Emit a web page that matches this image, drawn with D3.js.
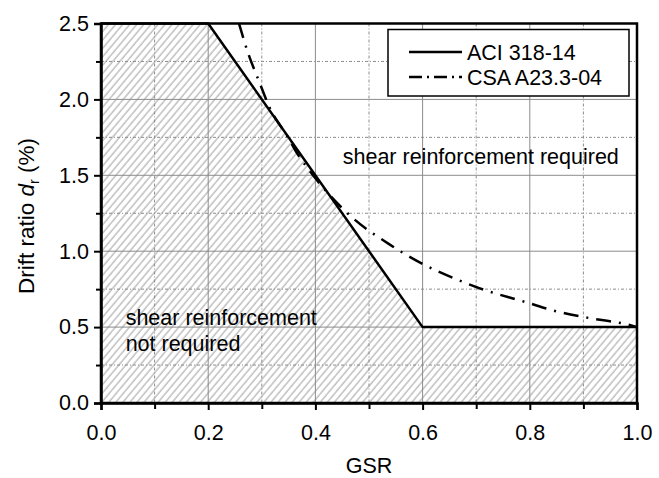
<!DOCTYPE html>
<html>
<head>
<meta charset="utf-8">
<script src="https://cdn.jsdelivr.net/npm/d3@7"></script>
<style>
  html, body { margin: 0; padding: 0; background: #fff; }
  svg { display: block; font-family: "Liberation Sans", Arial, sans-serif; }
</style>
</head>
<body>
<svg id="chart" width="659" height="478"></svg>
<script>
// ACI 318-14 limit (GSR vs. drift ratio, %)
const aciGsr   = [0.0, 0.2, 0.6, 1.0];
const aciDrift = [2.5, 2.5, 0.5, 0.5];

// CSA A23.3-04 limit
const csaGsr   = [0.2575, 0.273, 0.297, 0.314, 0.349, 0.365, 0.387, 0.40, 0.471, 0.536, 0.598, 0.664, 0.707, 0.791, 0.853, 0.915, 0.981, 1.0];
const csaDrift = [2.5,    2.32,  2.10,  1.95,  1.75,  1.65,  1.54,  1.48, 1.215, 1.05,  0.92,  0.814, 0.755, 0.666, 0.601, 0.557, 0.518, 0.5];

const xMajor = [0.0, 0.2, 0.4, 0.6, 0.8, 1.0];
const xMinor = [0.1, 0.3, 0.5, 0.7, 0.9];
const yMajor = [0.0, 0.5, 1.0, 1.5, 2.0, 2.5];
const yMinor = [0.25, 0.75, 1.25, 1.75, 2.25];

const legendLabels = ["ACI 318-14", "CSA A23.3-04"];

const W = 659, H = 478;
const margin = { left: 101, top: 23.5, right: 22, bottom: 75 };
const iw = W - margin.left - margin.right;
const ih = H - margin.top - margin.bottom;

const svg = d3.select("#chart");
const x = d3.scaleLinear().domain([0, 1]).range([0, iw]);
const y = d3.scaleLinear().domain([0, 2.5]).range([ih, 0]);

// diagonal hatching for the "not required" region
const defs = svg.append("defs");
defs.append("pattern")
  .attr("id", "hatch")
  .attr("patternUnits", "userSpaceOnUse")
  .attr("width", 5.4).attr("height", 10)
  .attr("patternTransform", "rotate(40)")
  .append("line")
  .attr("x1", 1).attr("y1", -1).attr("x2", 1).attr("y2", 11)
  .attr("stroke", "#a0a0a0").attr("stroke-width", 1);

const g = svg.append("g").attr("transform", `translate(${margin.left},${margin.top})`);

// hatched area below the ACI limit
const aciPts = aciGsr.map((v, i) => [v, aciDrift[i]]);
g.append("path")
  .datum(aciPts)
  .attr("d", d3.area().x(d => x(d[0])).y0(y(0)).y1(d => y(d[1])))
  .attr("fill", "url(#hatch)");

// grid
const gridColor = "#8c8c8c";
g.append("g").selectAll("line").data(xMajor.slice(1, -1)).join("line")
  .attr("x1", d => x(d)).attr("x2", d => x(d)).attr("y1", 0).attr("y2", ih)
  .attr("stroke", gridColor).attr("stroke-width", 1);
g.append("g").selectAll("line").data(xMinor).join("line")
  .attr("x1", d => x(d)).attr("x2", d => x(d)).attr("y1", 0).attr("y2", ih)
  .attr("stroke", gridColor).attr("stroke-width", 1).attr("stroke-dasharray", "3,2,1,2");
g.append("g").selectAll("line").data(yMajor.slice(1, -1)).join("line")
  .attr("y1", d => y(d)).attr("y2", d => y(d)).attr("x1", 0).attr("x2", iw)
  .attr("stroke", gridColor).attr("stroke-width", 1);
g.append("g").selectAll("line").data(yMinor).join("line")
  .attr("y1", d => y(d)).attr("y2", d => y(d)).attr("x1", 0).attr("x2", iw)
  .attr("stroke", gridColor).attr("stroke-width", 1).attr("stroke-dasharray", "3,2,1,2");

// limit curves
const line = d3.line().x(d => x(d[0])).y(d => y(d[1]));
g.append("path").datum(aciPts).attr("d", line)
  .attr("fill", "none").attr("stroke", "#000").attr("stroke-width", 2.5);

const csaPts = csaGsr.map((v, i) => [v, csaDrift[i]]);
g.append("path").datum(csaPts).attr("d", line.curve(d3.curveMonotoneX))
  .attr("fill", "none").attr("stroke", "#000").attr("stroke-width", 2.5)
  .attr("stroke-dasharray", "15,8,2,8");

// frame
g.append("rect").attr("x", 0).attr("y", 0).attr("width", iw).attr("height", ih)
  .attr("fill", "none").attr("stroke", "#000").attr("stroke-width", 2.5);

// axes
const fs = 21.5;
g.append("g").attr("transform", `translate(0,${ih})`)
  .call(d3.axisBottom(x).tickValues(xMajor).tickFormat(d3.format(".1f")).tickSize(7).tickPadding(15));
g.append("g").attr("transform", `translate(0,${ih})`)
  .call(d3.axisBottom(x).tickValues(xMinor).tickFormat("").tickSize(6))
  .call(s => s.select(".domain").remove());
g.append("g")
  .call(d3.axisLeft(y).tickValues(yMajor).tickFormat(d3.format(".1f")).tickSize(7).tickPadding(5));
g.append("g")
  .call(d3.axisLeft(y).tickValues(yMinor).tickFormat("").tickSize(5))
  .call(s => s.select(".domain").remove());

g.selectAll(".domain").attr("stroke-width", 2.5);
g.selectAll(".tick line").attr("stroke", "#000").attr("stroke-width", 2);
g.selectAll(".tick text").attr("font-size", fs).attr("fill", "#000")
  .attr("font-family", "'Liberation Sans', Arial, sans-serif");

// axis titles
svg.append("text")
  .attr("x", margin.left + iw / 2).attr("y", 473)
  .attr("text-anchor", "middle").attr("font-size", fs).text("GSR");

const yTitle = svg.append("text")
  .attr("transform", `translate(34,216) rotate(-90)`)
  .attr("text-anchor", "middle").attr("font-size", 22.5);
yTitle.append("tspan").text("Drift ratio ");
yTitle.append("tspan").attr("font-style", "italic").text("d");
yTitle.append("tspan").attr("font-size", 14.5).attr("dy", 5).text("r");
yTitle.append("tspan").attr("dy", -5).text(" (%)");

// region annotations
g.append("text").attr("x", x(0.451)).attr("y", y(1.572))
  .attr("font-size", fs).text("shear reinforcement required");
g.append("text").attr("x", x(0.046)).attr("y", y(0.513))
  .attr("font-size", fs).text("shear reinforcement");
g.append("text").attr("x", x(0.046)).attr("y", y(0.342))
  .attr("font-size", fs).text("not required");

// legend
const lg = svg.append("g");
lg.append("rect").attr("x", 388).attr("y", 29.5).attr("width", 241).attr("height", 66.5)
  .attr("fill", "#fff").attr("stroke", "#000").attr("stroke-width", 1.5);
const dashes = [null, "13,5,2,5"];
legendLabels.forEach((lab, i) => {
  const yy = 52 + i * 25;
  lg.append("line").attr("x1", 409).attr("x2", 462).attr("y1", yy).attr("y2", yy)
    .attr("stroke", "#000").attr("stroke-width", 2.5)
    .attr("stroke-dasharray", dashes[i]);
  lg.append("text").attr("x", 467).attr("y", yy + 7.5)
    .attr("font-size", fs).text(lab);
});
</script>
</body>
</html>
